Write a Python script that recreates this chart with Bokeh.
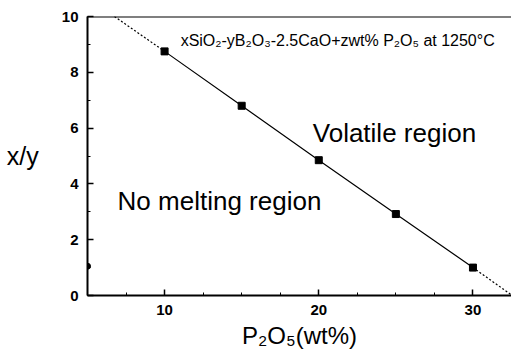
import numpy as np
from bokeh.plotting import figure
from bokeh.models import Range1d, Span, Label, FixedTicker
from bokeh.embed import file_html
from bokeh.resources import INLINE

# data
p2o5 = [10, 15, 20, 25, 30]
xy_ratio = [8.75, 6.8, 4.85, 2.92, 1.0]
edge_p2o5 = [5]
edge_ratio = [1.05]
x_ticks = [10, 20, 30]
y_ticks = [0, 2, 4, 6, 8, 10]
title_text = "xSiO\u2082-yB\u2082O\u2083-2.5CaO+zwt% P\u2082O\u2085 at 1250\u00b0C"

FONT = "Liberation Sans"

p = figure(width=511, height=351, output_backend="svg", toolbar_location=None,
           x_range=Range1d(5, 32.5), y_range=Range1d(0, 10),
           min_border_left=87, min_border_right=0, min_border_top=16, min_border_bottom=56)
p.outline_line_color = None
p.grid.visible = False
p.background_fill_color = "white"

for ax in (p.xaxis[0], p.yaxis[0]):
    ax.axis_line_width = 2
    ax.axis_line_color = "black"
    ax.major_tick_in = 6
    ax.major_tick_out = 0
    ax.minor_tick_in = 3
    ax.minor_tick_out = 0
    ax.major_tick_line_width = 1.5
    ax.major_label_text_font = FONT
    ax.major_label_text_font_size = "15px"
    ax.major_label_text_font_style = "bold"
    ax.major_label_text_color = "black"
    ax.axis_label_text_font = FONT
    ax.axis_label_text_font_style = "normal"
    ax.axis_label_text_color = "black"

p.xaxis.ticker = FixedTicker(ticks=x_ticks, minor_ticks=list(np.arange(5, 32.6, 2.5)))
p.yaxis.ticker = FixedTicker(ticks=y_ticks, minor_ticks=list(range(0, 11)))
p.xaxis.major_label_standoff = 9
p.yaxis.major_label_standoff = 9

p.xaxis.axis_label = "P\u2082O\u2085(wt%)"
p.xaxis.axis_label_text_font_size = "24px"
p.xaxis.axis_label_standoff = 4

p.yaxis.axis_label = "x/y"
p.yaxis.axis_label_text_font_size = "25px"
p.yaxis.axis_label_orientation = "horizontal"
p.yaxis.axis_label_standoff = 20

p.add_layout(Span(location=10, dimension="width", line_color="black", line_width=2))

# fitted line extensions
slope, inter = np.polyfit(p2o5, xy_ratio, 1)
x_top = (10 - inter) / slope
x_bot = (0 - inter) / slope
p.line([x_top, p2o5[0]], [10, xy_ratio[0]], line_color="black", line_width=1.2, line_dash="2 2")
p.line([p2o5[-1], x_bot], [xy_ratio[-1], 0], line_color="black", line_width=1.2, line_dash="2 2")
p.line(p2o5, xy_ratio, line_color="black", line_width=1.2)
p.scatter(p2o5, xy_ratio, marker="square", size=7, color="black")
p.scatter(edge_p2o5, edge_ratio, marker="circle", size=6, color="black")

p.add_layout(Label(x=11.04, y=9.14, text=title_text, text_font=FONT, text_font_size="16px",
                   text_color="black", text_baseline="alphabetic"))
p.add_layout(Label(x=19.61, y=5.81, text="Volatile region", text_font=FONT, text_font_size="26px",
                   text_color="black", text_baseline="alphabetic"))
p.add_layout(Label(x=6.95, y=3.4, text="No melting region", text_font=FONT, text_font_size="26px",
                   text_color="black", text_baseline="alphabetic"))

open("out.html", "w").write(file_html(p, INLINE))
